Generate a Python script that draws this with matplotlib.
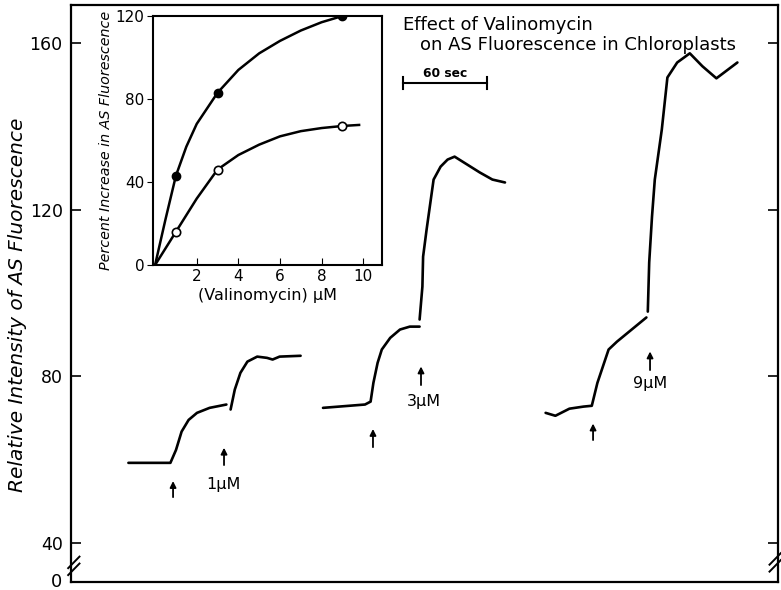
import numpy as np
import matplotlib
matplotlib.use("Agg")
import matplotlib.pyplot as plt

# main traces: time (sec) vs relative intensity
t1a = [41, 71, 75, 79, 84, 90, 99, 111]
v1a = [59.2, 59.2, 62.3, 66.7, 69.5, 71.2, 72.4, 73.2]
t1b = [114, 117, 121, 126, 133, 140, 144, 149, 164]
v1b = [72.0, 76.8, 80.8, 83.5, 84.7, 84.4, 84.0, 84.7, 84.9]

t2a = [180, 210, 214, 216, 219, 222, 228, 235, 242, 249]
v2a = [72.4, 73.2, 73.9, 78.4, 83.2, 86.4, 89.2, 91.2, 91.9, 91.9]
t2b = [249, 251, 251.5, 254, 259, 264, 269, 274, 283, 292, 301, 310]
v2b = [93.6, 101.5, 108.7, 115.2, 127.2, 130.3, 132.0, 132.7, 130.8, 128.9, 127.2, 126.5]

t3a = [339, 346, 356, 366, 372, 376, 384, 390, 411]
v3a = [71.2, 70.5, 72.2, 72.7, 72.9, 78.4, 86.4, 88.3, 94.1]
t3b = [412, 413, 415, 417, 422, 426, 433, 442, 451, 461, 476]
v3b = [95.5, 107.3, 118.3, 127.2, 139.2, 151.7, 155.3, 157.5, 154.4, 151.5, 155.3]

# arrows: x, y tail, y head
arrows = [(72.9, 50.3, 55.5), (109.3, 58.0, 63.5), (215.7, 62.3, 68.0),
          (250.0, 77.2, 83.0), (372.9, 64.0, 69.3), (413.6, 80.8, 86.6)]
conc_labels = [("1μM", 108.6, 53.9), ("3μM", 252.0, 73.9), ("9μM", 413.6, 78.2)]

# inset: percent increase vs valinomycin concentration
conc = [1, 3, 9]
filled_pts = [43, 83, 120]
open_pts = [16, 46, 67]
filled_x = [0, 0.5, 1, 1.5, 2, 3, 4, 5, 6, 7, 8, 9]
filled_y = [0, 22, 43, 57, 68, 83, 94, 102, 108, 113, 117, 120]
open_x = [0, 1, 2, 3, 4, 5, 6, 7, 8, 9, 9.8]
open_y = [0, 16, 32, 46, 53, 58, 62, 64.5, 66, 67, 67.5]

fig = plt.figure(figsize=(7.81, 5.90), dpi=100)
ax = fig.add_axes([71 / 781, 1 - 582 / 590, 707 / 781, 577 / 590])
ax.set_xlim(0, 505)
ax.set_ylim(30.6, 169.1)

for tx, vy in [(t1a, v1a), (t1b, v1b), (t2a, v2a), (t2b, v2b), (t3a, v3a), (t3b, v3b)]:
    ax.plot(tx, vy, color="black", lw=1.9, solid_capstyle="round", solid_joinstyle="round")

for x, y0, y1 in arrows:
    ax.annotate("", xy=(x, y1), xytext=(x, y0),
                arrowprops=dict(arrowstyle="-|>", color="black", lw=1.3, mutation_scale=9))
for s, x, y in conc_labels:
    ax.text(x, y, s, ha="center", va="center", fontsize=11.5)

ax.set_yticks([40, 80, 120, 160])
ax.set_xticks([])
ax.tick_params(axis="y", direction="in", length=7, width=1.2, labelsize=12.5,
               right=True, pad=6)
for sp in ax.spines.values():
    sp.set_linewidth(1.6)
ax.set_ylabel("Relative Intensity of AS Fluorescence", fontsize=14.5, style="italic")
ax.yaxis.set_label_coords(-0.062, 0.48)

# axis break and the zero label
ax.text(-0.012, 0, "0", transform=ax.transAxes, ha="right", va="center", fontsize=13)
for dy in (0.0, 0.012):
    ax.plot([-0.004, 0.012], [0.012 + dy, 0.032 + dy], transform=ax.transAxes,
            color="black", lw=1.4, clip_on=False)
    ax.plot([0.988, 1.004], [0.018 + dy, 0.038 + dy], transform=ax.transAxes,
            color="black", lw=1.4, clip_on=False)

# title and scale bar
ax.text(237, 164.4, "Effect of Valinomycin", fontsize=13, va="center")
ax.text(249, 159.6, "on AS Fluorescence in Chloroplasts", fontsize=13, va="center")
ax.plot([237.1, 297.1], [150.3, 150.3], color="black", lw=1.5)
ax.plot([237.1, 237.1], [148.9, 151.7], color="black", lw=1.5)
ax.plot([297.1, 297.1], [148.9, 151.7], color="black", lw=1.5)
ax.text(267, 152.6, "60 sec", ha="center", va="center", fontsize=8.8, fontweight="bold")

# inset
ins = fig.add_axes([153 / 781, 1 - 265 / 590, 229 / 781, 249 / 590])
ins.set_xlim(-0.1, 10.9)
ins.set_ylim(0, 120)
ins.plot(filled_x, filled_y, color="black", lw=1.8)
ins.plot(open_x, open_y, color="black", lw=1.8)
ins.plot(conc, filled_pts, "o", color="black", ms=6, zorder=3)
ins.plot(conc, open_pts, "o", mfc="white", mec="black", mew=1.2, ms=6, zorder=3)
ins.set_xticks([2, 4, 6, 8, 10])
ins.set_yticks([0, 40, 80, 120])
ins.tick_params(axis="x", direction="in", length=5, labelsize=11, pad=3)
ins.tick_params(axis="y", direction="out", length=4, labelsize=11, pad=2)
for sp in ins.spines.values():
    sp.set_linewidth(1.5)
ins.set_xlabel("(Valinomycin) μM", fontsize=11.5, labelpad=3)
ins.set_ylabel("Percent Increase in AS Fluorescence", fontsize=10.3, style="italic", labelpad=2)

fig.savefig("out.png", dpi=100)
